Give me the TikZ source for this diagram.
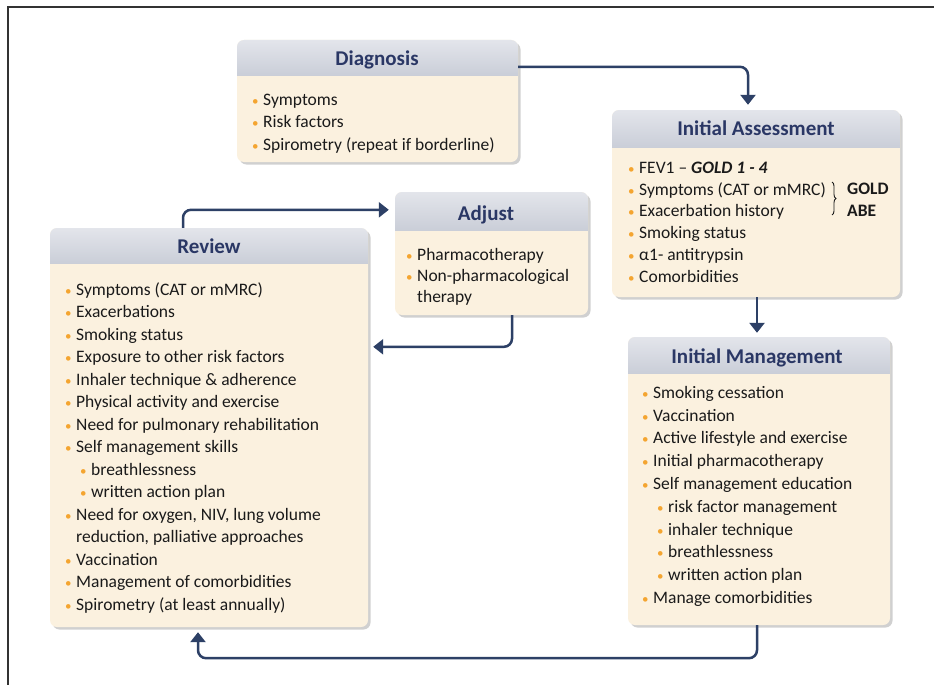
\documentclass[tikz,border=0pt]{standalone}
\usepackage{fontspec}
\setmainfont{Carlito}
\usetikzlibrary{arrows.meta,shadows,fit,calc,decorations.pathreplacing}
\definecolor{cream}{HTML}{FBF1DF}
\definecolor{hdrtop}{HTML}{E3E5EB}
\definecolor{hdrbot}{HTML}{CACED8}
\definecolor{ttl}{HTML}{2A3765}
\definecolor{navy}{HTML}{2D4066}
\definecolor{bul}{HTML}{F4A530}
\definecolor{txtc}{HTML}{1A1A1A}
\newcommand\bu{\strut\makebox[10pt][l]{\textcolor{bul}{\hspace*{-1pt}\fontsize{13}{13}\selectfont •}}}
\newcommand\sbu{\strut\hspace*{15pt}\bu}
\newcommand\cont{\strut\hspace*{10pt}}
\tikzset{
  panelbox/.style={rectangle, rounded corners=7pt, fill=cream, inner sep=0pt,
    drop shadow={shadow xshift=2.5pt, shadow yshift=-2.5pt, opacity=0.3, fill=black!60}},
  ttlnode/.style={anchor=base, inner sep=0pt, text=ttl, font=\fontsize{21}{25}\selectfont\bfseries},
  txt/.style={anchor=north west, inner sep=0pt, align=left, text=txtc},
  conn/.style={draw=navy, line width=2.5pt, rounded corners=8pt, -{Triangle[width=15pt,length=10pt]}},
}
\newcommand\panel[6]{%
  \node[panelbox, fit={(#2,#3) (#4,#5)}] (#1) {};
  \begin{scope}
    \clip[rounded corners=7pt] (#2,#3) rectangle (#4,#5);
    \shade[top color=hdrtop, bottom color=hdrbot] (#2,#3) rectangle (#4,#6);
  \end{scope}
}
\begin{document}
\begin{tikzpicture}[x=1pt,y=-1pt]
\useasboundingbox (0,0) rectangle (934,685);
\fill[white] (0,0) rectangle (934,685);
% frame
\draw[line width=1.5pt, black!80] (8,685) -- (8,7) -- (934,7);

% panels
\panel{diag}{237}{40}{518}{162}{75}
\panel{ia}{612}{110}{900}{297}{147}
\panel{adj}{395}{192}{588}{315}{230}
\panel{rev}{50}{228}{368}{627}{263}
\panel{im}{628}{337}{890}{625}{373}

% titles
\node[ttlnode] (diagT) at (377,66) {Diagnosis};
\node[ttlnode] (iaT) at (756,135) {Initial Assessment};
\node[ttlnode] (adjT) at (486,220) {Adjust};
\node[ttlnode] (revT) at (209,253) {Review};
\node[ttlnode] (imT) at (757,363) {Initial Management};

% contents
\node[txt, font=\fontsize{17.5}{22.5}\selectfont] (diagL) at (253,89.25)
  {\bu Symptoms\\ \bu Risk factors\\ \bu Spirometry (repeat if borderline)};

\node[txt, font=\fontsize{17.5}{21.8}\selectfont] (iaL) at (629,157.74)
  {\bu FEV1 -- \textbf{\textit{GOLD 1 - 4}}\\
   \bu Symptoms (CAT or mMRC)\\
   \bu Exacerbation history\\
   \bu Smoking status\\
   \bu α1- antitrypsin\\
   \bu Comorbidities};
\node[anchor=base west, inner sep=0pt, text=txtc, font=\fontsize{17.5}{21}\selectfont\bfseries] (gold) at (847,194.8) {GOLD};
\node[anchor=base west, inner sep=0pt, text=txtc, font=\fontsize{17.5}{21}\selectfont\bfseries] (abe) at (847,216.6) {ABE};
\draw[txtc, line width=0.9pt, decorate, decoration={brace, amplitude=4pt}] (832,182) -- (832,215);

\node[txt, font=\fontsize{17.5}{21}\selectfont] (adjL) at (407,245.3)
  {\bu Pharmacotherapy\\ \bu Non-pharmacological\\ \cont therapy};

\node[txt, font=\fontsize{17.5}{22.5}\selectfont] (revL) at (66,279.25)
  {\bu Symptoms (CAT or mMRC)\\
   \bu Exacerbations\\
   \bu Smoking status\\
   \bu Exposure to other risk factors\\
   \bu Inhaler technique \& adherence\\
   \bu Physical activity and exercise\\
   \bu Need for pulmonary rehabilitation\\
   \bu Self management skills\\
   \sbu breathlessness\\
   \sbu written action plan\\
   \bu Need for oxygen, NIV, lung volume\\
   \cont reduction, palliative approaches\\
   \bu Vaccination\\
   \bu Management of comorbidities\\
   \bu Spirometry (at least annually)};

\node[txt, font=\fontsize{17.5}{22.8}\selectfont] (imL) at (643,382.04)
  {\bu Smoking cessation\\
   \bu Vaccination\\
   \bu Active lifestyle and exercise\\
   \bu Initial pharmacotherapy\\
   \bu Self management education\\
   \sbu risk factor management\\
   \sbu inhaler technique\\
   \sbu breathlessness\\
   \sbu written action plan\\
   \bu Manage comorbidities};

% connectors
\draw[conn] ([yshift=-27pt]diag.north east) -| ([xshift=-8pt,yshift=5pt]ia.north);
\draw[conn] ([xshift=1pt]ia.south) -- ([xshift=1pt,yshift=4pt]ia.south |- im.north);
\draw[conn] ([xshift=-2pt]im.south) -- ++(0,33) -| ([xshift=-11pt,yshift=-5pt]rev.south);
\draw[conn] ([xshift=-26pt]rev.north) |- ([xshift=-6pt,yshift=-18pt]adj.north west);
\draw[conn] ([xshift=20.5pt]adj.south) |- ([xshift=5pt,yshift=-119pt]rev.north east);
\end{tikzpicture}
\end{document}
